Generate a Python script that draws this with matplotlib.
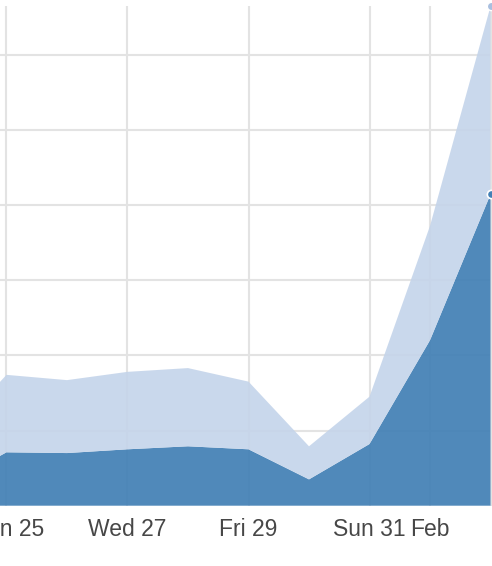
import matplotlib
matplotlib.use("Agg")
import matplotlib.pyplot as plt
import numpy as np

# day index: 24..31 = Jan 24..31 (2016), 32 = Feb 1, 33 = Feb 2
days = [24, 25, 26, 27, 28, 29, 30, 31, 32, 33]
series_a = [2.7, 7.1, 7.0, 7.5, 7.9, 7.5, 3.5, 8.2, 22.0, 41.4]   # dark, bottom
series_b = [6.0, 10.3, 9.7, 10.3, 10.4, 9.0, 4.4, 6.3, 15.2, 25.0]  # light, stacked on top
tick_days = [25, 27, 29, 31, 32]
tick_labels = ["Mon 25", "Wed 27", "Fri 29", "Sun 31", "Feb"]
y_grid = [10, 20, 30, 40, 50, 60]

W, H = 492, 566
fig = plt.figure(figsize=(W / 100, H / 100), dpi=100)
bottom = (H - 505.7) / H
top = 1 - 6 / H
ax = fig.add_axes([0, bottom, 1, top - bottom])

x = np.array(days, dtype=float)
a = np.array(series_a)
b = np.array(series_b)
total = a + b

grid_c = "#e3e3e3"
for yv in y_grid:
    ax.axhline(yv, color=grid_c, lw=1.5, zorder=1)
for xv in tick_days + [33]:
    ax.axvline(xv, color=grid_c, lw=1.5, zorder=1)

ax.fill_between(x, 0, a, color="#4380b5", alpha=0.93, lw=0, zorder=2)
ax.fill_between(x, a, total, color="#c4d4ea", alpha=0.9, lw=0, zorder=2)

ax.plot([x[-1]], [total[-1]], "o", ms=6, mfc="#a9bfdf", mec="white", mew=1, zorder=4, clip_on=False)
ax.plot([x[-1]], [a[-1]], "o", ms=6, mfc="#4380b5", mec="white", mew=1.2, zorder=4, clip_on=False)

ax.set_xlim(25 - 6.5 / 60.5, 25 + (W - 6.5) / 60.5)
ax.set_ylim(0, 66.45)
ax.set_xticks(tick_days)
ax.set_xticklabels(tick_labels, fontsize=16.5, color="#474747", fontfamily="Liberation Sans")
ax.tick_params(axis="x", length=0, pad=8.5)
ax.set_yticks([])
for s in ax.spines.values():
    s.set_visible(False)
ax.set_facecolor("none")

fig.savefig("out.png", dpi=100)
